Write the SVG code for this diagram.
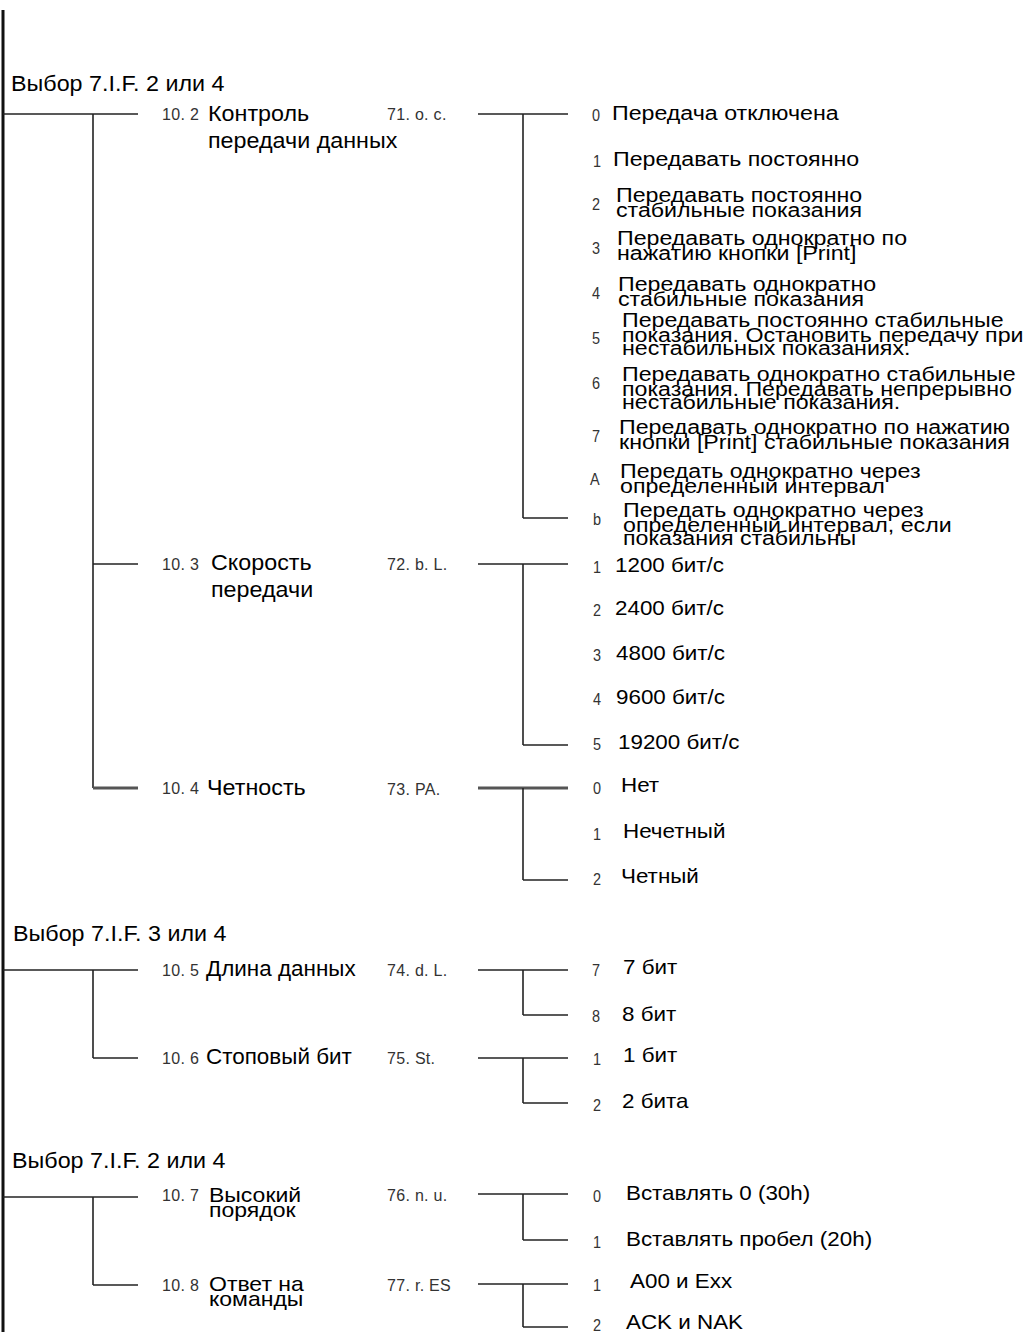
<svg xmlns="http://www.w3.org/2000/svg" width="1033" height="1332" viewBox="0 0 1033 1332">
<style>
.h{font-family:"Liberation Sans",Arial,sans-serif;font-size:22px;fill:#000}
.lb{font-family:"Liberation Sans",Arial,sans-serif;font-size:22px;fill:#000}
.op{font-family:"Liberation Sans",Arial,sans-serif;font-size:20px;fill:#000}
.n{font-family:"Liberation Sans",Arial,sans-serif;font-size:16px;fill:#333;letter-spacing:0.3px}
.d{font-family:"Liberation Sans",Arial,sans-serif;font-size:17px;fill:#333}
.c{stroke:#222;stroke-width:1.6;fill:none}
.ct{stroke:#555;stroke-width:3;fill:none}
.m{stroke:#111;stroke-width:3;fill:none}
</style>
<rect width="1033" height="1332" fill="#fff"/>
<g id="connectors">
<line class="m" x1="3" y1="10" x2="3" y2="1332"/>
<line class="c" x1="3" y1="114" x2="138" y2="114"/>
<line class="c" x1="93" y1="114" x2="93" y2="788"/>
<line class="c" x1="93" y1="564" x2="138" y2="564"/>
<line class="ct" x1="93" y1="788" x2="138" y2="788"/>
<line class="c" x1="478" y1="114" x2="568" y2="114"/>
<line class="c" x1="523" y1="114" x2="523" y2="518"/>
<line class="c" x1="523" y1="518" x2="568" y2="518"/>
<line class="c" x1="478" y1="564" x2="568" y2="564"/>
<line class="c" x1="523" y1="564" x2="523" y2="745"/>
<line class="c" x1="523" y1="745" x2="568" y2="745"/>
<line class="ct" x1="478" y1="788" x2="568" y2="788"/>
<line class="c" x1="523" y1="788" x2="523" y2="880"/>
<line class="c" x1="523" y1="880" x2="568" y2="880"/>
<line class="c" x1="3" y1="970" x2="138" y2="970"/>
<line class="c" x1="93" y1="970" x2="93" y2="1058"/>
<line class="c" x1="93" y1="1058" x2="138" y2="1058"/>
<line class="c" x1="478" y1="970" x2="568" y2="970"/>
<line class="c" x1="523" y1="970" x2="523" y2="1015"/>
<line class="c" x1="523" y1="1015" x2="568" y2="1015"/>
<line class="c" x1="478" y1="1058" x2="568" y2="1058"/>
<line class="c" x1="523" y1="1058" x2="523" y2="1103"/>
<line class="c" x1="523" y1="1103" x2="568" y2="1103"/>
<line class="c" x1="3" y1="1197" x2="138" y2="1197"/>
<line class="c" x1="93" y1="1197" x2="93" y2="1285"/>
<line class="c" x1="93" y1="1285" x2="138" y2="1285"/>
<line class="c" x1="478" y1="1194" x2="568" y2="1194"/>
<line class="c" x1="523" y1="1194" x2="523" y2="1240"/>
<line class="c" x1="523" y1="1240" x2="568" y2="1240"/>
<line class="c" x1="478" y1="1284" x2="568" y2="1284"/>
<line class="c" x1="523" y1="1284" x2="523" y2="1327"/>
<line class="c" x1="523" y1="1327" x2="568" y2="1327"/>
</g>

<g id="header-1"><text class="h" transform="translate(11,91) scale(1.06,1)">Выбор 7.I.F. 2 или 4</text></g>
<g id="header-2"><text class="h" transform="translate(13,941) scale(1.06,1)">Выбор 7.I.F. 3 или 4</text></g>
<g id="header-3"><text class="h" transform="translate(12,1168) scale(1.06,1)">Выбор 7.I.F. 2 или 4</text></g>

<g id="node-10-2">
<text class="n" x="162" y="120">10. 2</text>
<text class="lb" transform="translate(208,121) scale(1.06,1)"><tspan x="0" y="0">Контроль</tspan><tspan x="0" y="27">передачи данных</tspan></text>
<text class="n" x="387" y="120">71. o. c.</text>
</g>
<g id="node-10-3">
<text class="n" x="162" y="570">10. 3</text>
<text class="lb" transform="translate(211,570) scale(1.06,1)"><tspan x="0" y="0">Скорость</tspan><tspan x="0" y="27">передачи</tspan></text>
<text class="n" x="387" y="570">72. b. L.</text>
</g>
<g id="node-10-4">
<text class="n" x="162" y="794">10. 4</text>
<text class="lb" transform="translate(207,795) scale(1.06,1)">Четность</text>
<text class="n" x="387" y="795">73. PA.</text>
</g>
<g id="node-10-5">
<text class="n" x="162" y="976">10. 5</text>
<text class="lb" transform="translate(206,976) scale(1.02,1)">Длина данных</text>
<text class="n" x="387" y="976">74. d. L.</text>
</g>
<g id="node-10-6">
<text class="n" x="162" y="1064">10. 6</text>
<text class="lb" transform="translate(206,1064) scale(1.02,1)">Стоповый бит</text>
<text class="n" x="387" y="1064">75. St.</text>
</g>
<g id="node-10-7">
<text class="n" x="162" y="1201">10. 7</text>
<text class="op" transform="translate(209,1202) scale(1.15,1)"><tspan x="0" y="0">Высокий</tspan><tspan x="0" y="15">порядок</tspan></text>
<text class="n" x="387" y="1201">76. n. u.</text>
</g>
<g id="node-10-8">
<text class="n" x="162" y="1291">10. 8</text>
<text class="op" transform="translate(209,1291) scale(1.15,1)"><tspan x="0" y="0">Ответ на</tspan><tspan x="0" y="15">команды</tspan></text>
<text class="n" x="387" y="1291">77. r. ES</text>
</g>

<g id="options-71">
<g id="o71-0"><text class="d" transform="translate(592,121) scale(0.85,1)">0</text><text class="op" transform="translate(612,120) scale(1.16,1)">Передача отключена</text></g>
<g id="o71-1"><text class="d" transform="translate(593,167) scale(0.85,1)">1</text><text class="op" transform="translate(613,166) scale(1.16,1)">Передавать постоянно</text></g>
<g id="o71-2"><text class="d" transform="translate(592,210) scale(0.85,1)">2</text><text class="op" transform="translate(616,202) scale(1.16,1)"><tspan x="0" y="0">Передавать постоянно</tspan><tspan x="0" y="14.5">стабильные показания</tspan></text></g>
<g id="o71-3"><text class="d" transform="translate(592,254) scale(0.85,1)">3</text><text class="op" transform="translate(617,245) scale(1.16,1)"><tspan x="0" y="0">Передавать однократно по</tspan><tspan x="0" y="14.5">нажатию кнопки [Print]</tspan></text></g>
<g id="o71-4"><text class="d" transform="translate(592,299) scale(0.85,1)">4</text><text class="op" transform="translate(618,291) scale(1.16,1)"><tspan x="0" y="0">Передавать однократно</tspan><tspan x="0" y="14.5">стабильные показания</tspan></text></g>
<g id="o71-5"><text class="d" transform="translate(592,344) scale(0.85,1)">5</text><text class="op" transform="translate(622,327) scale(1.16,1)"><tspan x="0" y="0">Передавать постоянно стабильные</tspan><tspan x="0" y="14.5">показания. Остановить передачу при</tspan><tspan x="0" y="28.5">нестабильных показаниях.</tspan></text></g>
<g id="o71-6"><text class="d" transform="translate(592,389) scale(0.85,1)">6</text><text class="op" transform="translate(622,381) scale(1.16,1)"><tspan x="0" y="0">Передавать однократно стабильные</tspan><tspan x="0" y="14.5">показания. Передавать непрерывно</tspan><tspan x="0" y="28.5">нестабильные показания.</tspan></text></g>
<g id="o71-7"><text class="d" transform="translate(592,442) scale(0.85,1)">7</text><text class="op" transform="translate(619,434) scale(1.16,1)"><tspan x="0" y="0">Передавать однократно по нажатию</tspan><tspan x="0" y="14.5">кнопки [Print] стабильные показания</tspan></text></g>
<g id="o71-A"><text class="d" transform="translate(590,485) scale(0.85,1)">A</text><text class="op" transform="translate(620,478) scale(1.16,1)"><tspan x="0" y="0">Передать однократно через</tspan><tspan x="0" y="14.5">определенный интервал</tspan></text></g>
<g id="o71-b"><text class="d" transform="translate(593,525) scale(0.85,1)">b</text><text class="op" transform="translate(623,517) scale(1.16,1)"><tspan x="0" y="0">Передать однократно через</tspan><tspan x="0" y="14.5">определенный интервал, если</tspan><tspan x="0" y="28.5">показания стабильны</tspan></text></g>
</g>

<g id="options-72">
<g id="o72-1"><text class="d" transform="translate(593,573) scale(0.85,1)">1</text><text class="op" transform="translate(615,572) scale(1.12,1)">1200 бит/с</text></g>
<g id="o72-2"><text class="d" transform="translate(593,616) scale(0.85,1)">2</text><text class="op" transform="translate(615,615) scale(1.12,1)">2400 бит/с</text></g>
<g id="o72-3"><text class="d" transform="translate(593,661) scale(0.85,1)">3</text><text class="op" transform="translate(616,660) scale(1.12,1)">4800 бит/с</text></g>
<g id="o72-4"><text class="d" transform="translate(593,705) scale(0.85,1)">4</text><text class="op" transform="translate(616,704) scale(1.12,1)">9600 бит/с</text></g>
<g id="o72-5"><text class="d" transform="translate(593,750) scale(0.85,1)">5</text><text class="op" transform="translate(618,749) scale(1.12,1)">19200 бит/с</text></g>
</g>

<g id="options-73">
<g id="o73-0"><text class="d" transform="translate(593,794) scale(0.85,1)">0</text><text class="op" transform="translate(621,792) scale(1.12,1)">Нет</text></g>
<g id="o73-1"><text class="d" transform="translate(593,840) scale(0.85,1)">1</text><text class="op" transform="translate(623,838) scale(1.12,1)">Нечетный</text></g>
<g id="o73-2"><text class="d" transform="translate(593,885) scale(0.85,1)">2</text><text class="op" transform="translate(621,883) scale(1.12,1)">Четный</text></g>
</g>

<g id="options-74">
<g id="o74-7"><text class="d" transform="translate(592,976) scale(0.85,1)">7</text><text class="op" transform="translate(623,974) scale(1.12,1)">7 бит</text></g>
<g id="o74-8"><text class="d" transform="translate(592,1022) scale(0.85,1)">8</text><text class="op" transform="translate(622,1021) scale(1.12,1)">8 бит</text></g>
</g>

<g id="options-75">
<g id="o75-1"><text class="d" transform="translate(593,1065) scale(0.85,1)">1</text><text class="op" transform="translate(623,1062) scale(1.12,1)">1 бит</text></g>
<g id="o75-2"><text class="d" transform="translate(593,1111) scale(0.85,1)">2</text><text class="op" transform="translate(622,1108) scale(1.12,1)">2 бита</text></g>
</g>

<g id="options-76">
<g id="o76-0"><text class="d" transform="translate(593,1202) scale(0.85,1)">0</text><text class="op" transform="translate(626,1200) scale(1.12,1)">Вставлять 0 (30h)</text></g>
<g id="o76-1"><text class="d" transform="translate(593,1248) scale(0.85,1)">1</text><text class="op" transform="translate(626,1246) scale(1.12,1)">Вставлять пробел (20h)</text></g>
</g>

<g id="options-77">
<g id="o77-1"><text class="d" transform="translate(593,1291) scale(0.85,1)">1</text><text class="op" transform="translate(630,1288) scale(1.12,1)">A00 и Exx</text></g>
<g id="o77-2"><text class="d" transform="translate(593,1331) scale(0.85,1)">2</text><text class="op" transform="translate(626,1329) scale(1.12,1)">ACK и NAK</text></g>
</g>
</svg>
